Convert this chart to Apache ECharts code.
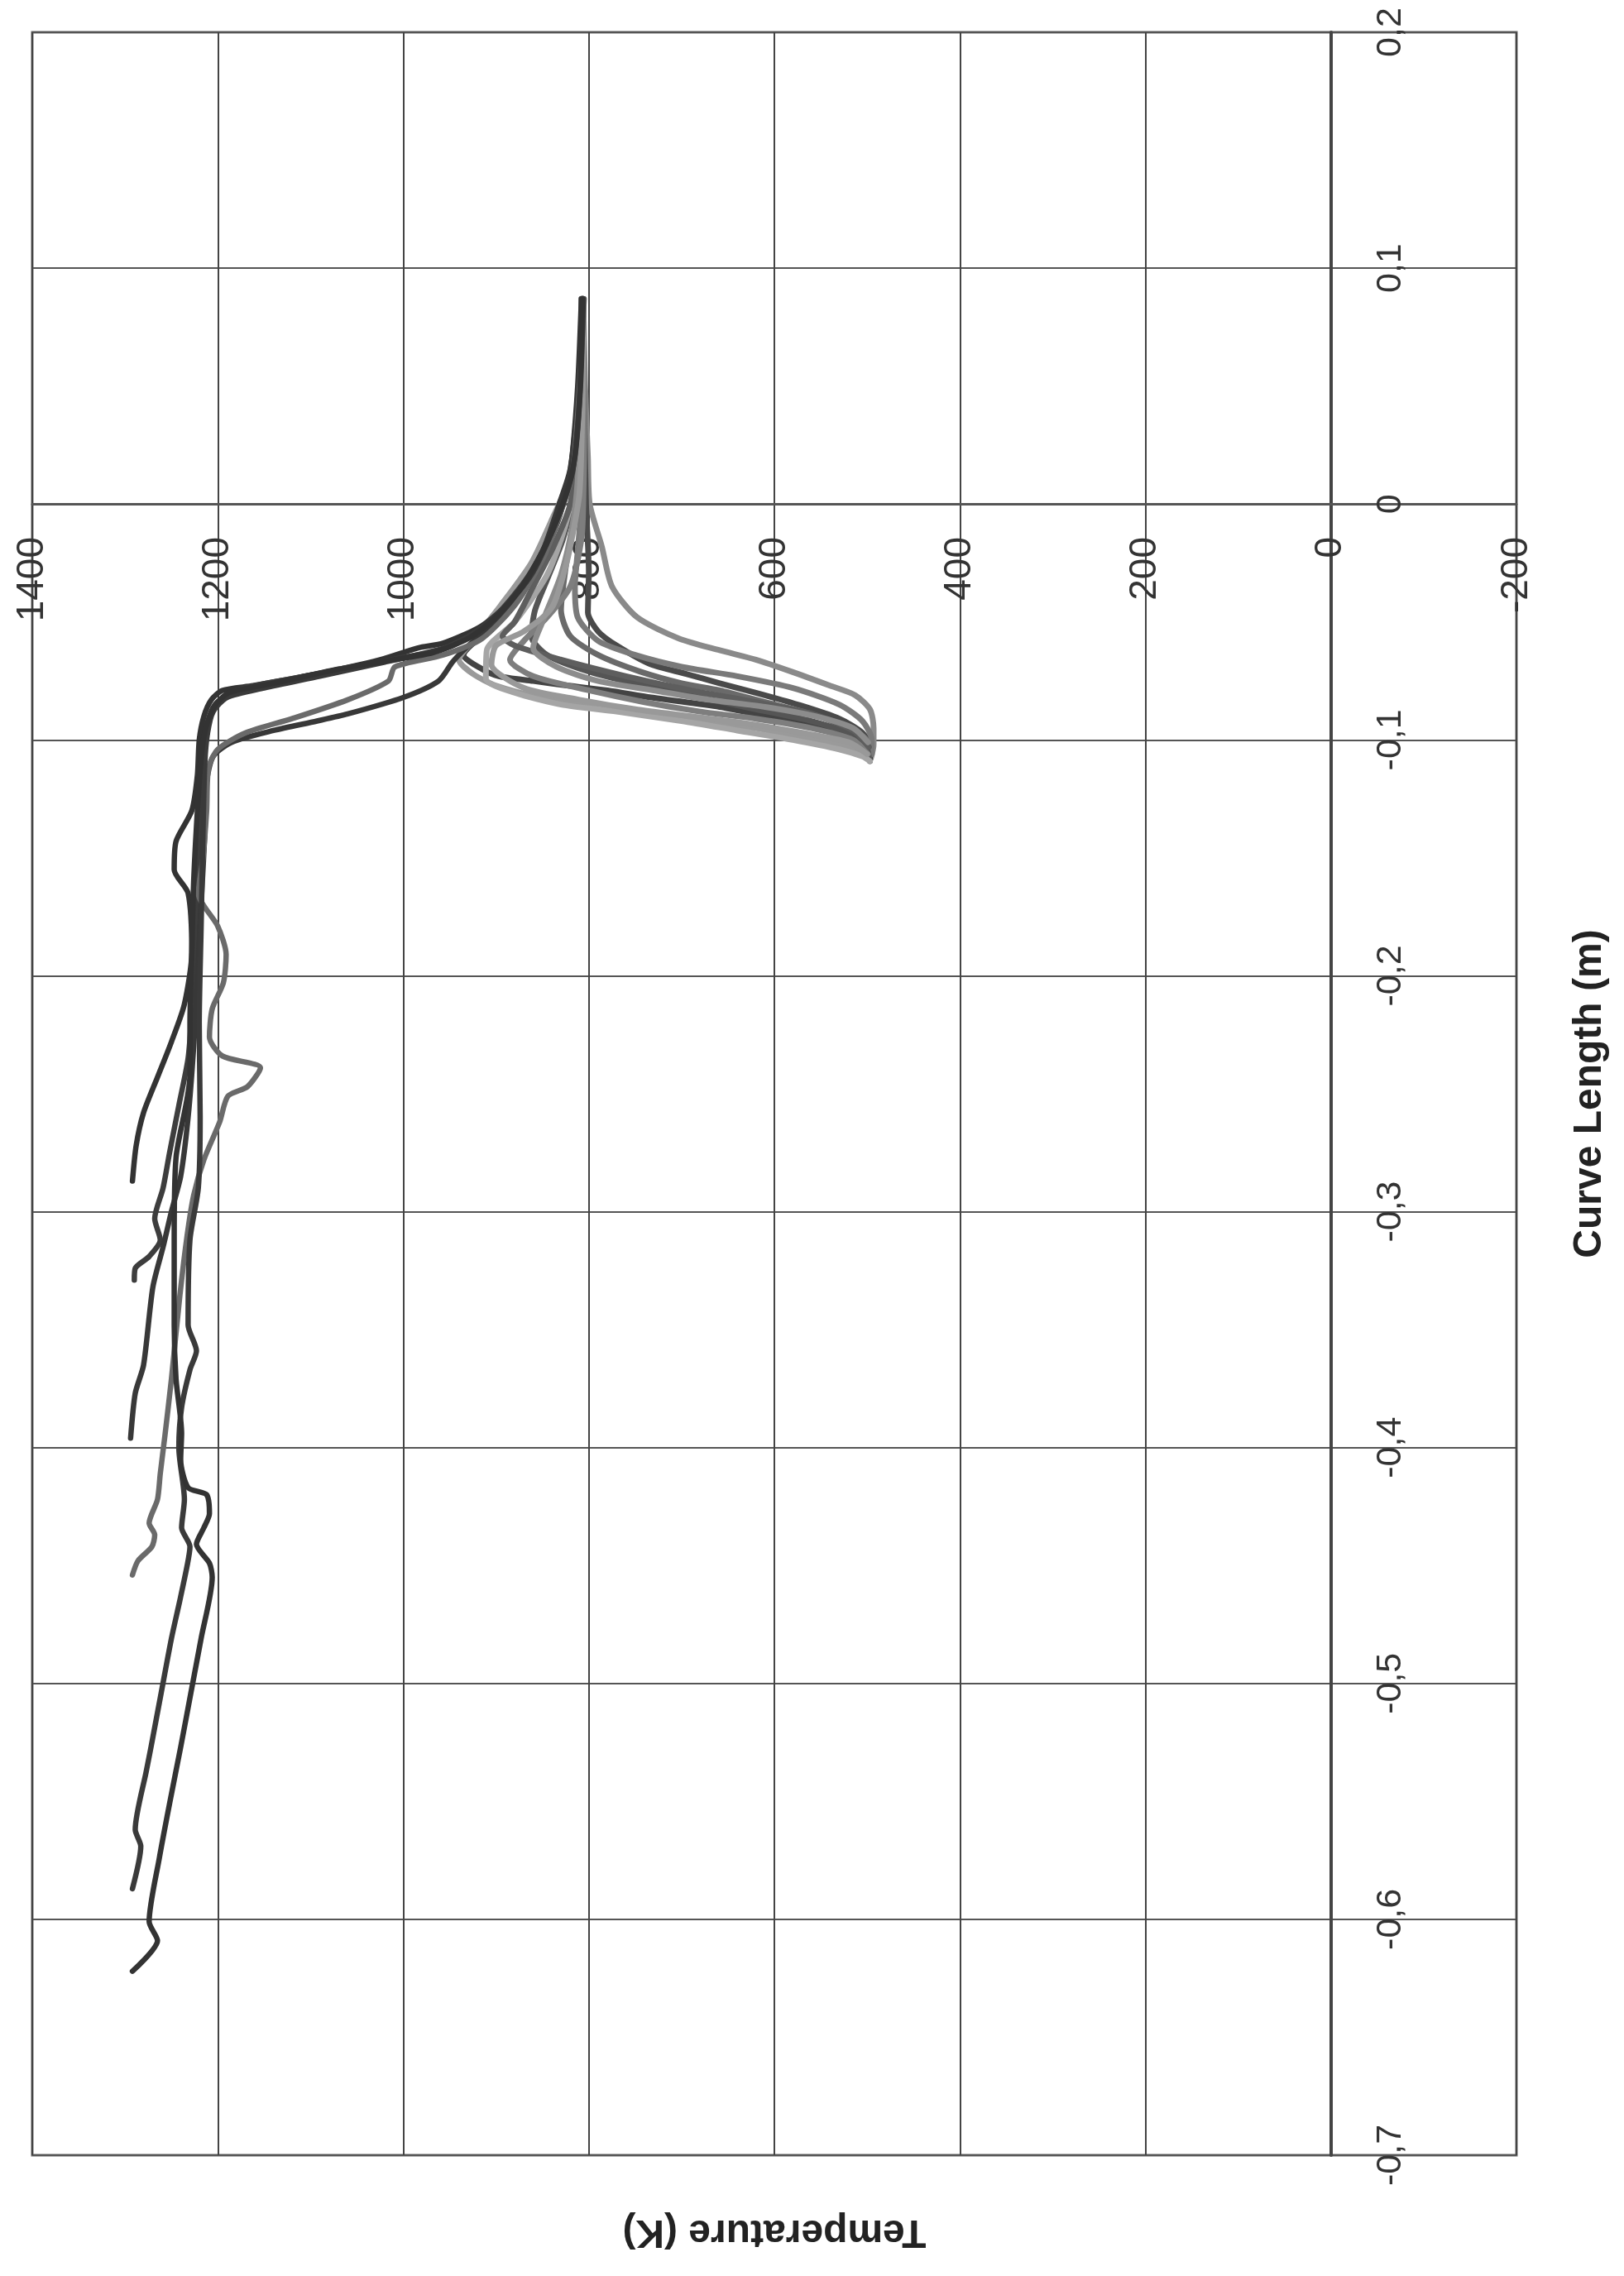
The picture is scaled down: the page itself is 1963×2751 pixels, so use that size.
<!DOCTYPE html>
<html>
<head>
<meta charset="utf-8">
<script src="https://cdn.jsdelivr.net/npm/echarts@6/dist/echarts.min.js"></script>
<style>
html,body{margin:0;padding:0;background:#fff;}
#chart{width:1963px;height:2751px;}
</style>
</head>
<body>
<div id="chart"></div>
<script>
// Axis ticks
var tempTicks = [-200, 0, 200, 400, 600, 800, 1000, 1200, 1400];
var lengthTicks = [-0.7, -0.6, -0.5, -0.4, -0.3, -0.2, -0.1, 0, 0.1, 0.2];

// Each series: [Temperature (K), Curve Length (m)]
// Hot branches (dark lines running to the far negative curve length)
var hot1 = [[808,0.087],[812,0.05],[818,0.02],[822,0.009],[834,-0.008],[855,-0.026],[889,-0.043],[917,-0.052],[957,-0.059],[984,-0.061],[1025,-0.066],[1093,-0.072],[1162,-0.077],[1195,-0.079],[1207,-0.083],[1215,-0.09],[1220,-0.1],[1222,-0.115],[1228,-0.13],[1245,-0.143],[1247,-0.155],[1232,-0.165],[1228,-0.19],[1236,-0.212],[1250,-0.228],[1265,-0.243],[1280,-0.258],[1288,-0.272],[1292,-0.287]];
var hot2 = [[806,0.087],[810,0.05],[816,0.02],[826,0.003],[842,-0.014],[866,-0.031],[897,-0.046],[925,-0.055],[962,-0.062],[1000,-0.065],[1050,-0.069],[1120,-0.074],[1180,-0.079],[1203,-0.085],[1212,-0.094],[1216,-0.105],[1218,-0.13],[1222,-0.16],[1225,-0.19],[1228,-0.215],[1232,-0.235],[1242,-0.255],[1252,-0.275],[1259,-0.29],[1268,-0.303],[1262,-0.312],[1274,-0.319],[1289,-0.324],[1290,-0.329]];
var hot3 = [[807,0.087],[811,0.05],[820,0.015],[832,0.0],[850,-0.02],[880,-0.04],[910,-0.053],[935,-0.062],[947,-0.067],[962,-0.075],[1000,-0.082],[1060,-0.089],[1093,-0.092],[1140,-0.096],[1185,-0.101],[1205,-0.107],[1212,-0.118],[1214,-0.14],[1218,-0.17],[1222,-0.2],[1226,-0.23],[1232,-0.26],[1240,-0.285],[1250,-0.3],[1259,-0.315],[1270,-0.332],[1280,-0.365],[1289,-0.377],[1294,-0.396]];
var hot4 = [[805,0.087],[810,0.05],[818,0.012],[830,-0.003],[848,-0.022],[878,-0.042],[915,-0.057],[957,-0.064],[1009,-0.069],[1016,-0.075],[1060,-0.083],[1120,-0.091],[1170,-0.097],[1200,-0.104],[1210,-0.112],[1212,-0.13],[1216,-0.15],[1221,-0.165],[1200,-0.179],[1191,-0.191],[1194,-0.203],[1206,-0.214],[1209,-0.226],[1195,-0.234],[1154,-0.239],[1168,-0.247],[1189,-0.251],[1198,-0.262],[1215,-0.278],[1226,-0.293],[1233,-0.31],[1241,-0.336],[1250,-0.371],[1257,-0.395],[1262,-0.411],[1265,-0.422],[1274,-0.432],[1268,-0.437],[1271,-0.442],[1286,-0.448],[1292,-0.454]];
var hot5 = [[806,0.087],[809,0.05],[815,0.02],[824,0.005],[840,-0.012],[862,-0.03],[893,-0.045],[922,-0.054],[947,-0.06],[975,-0.063],[1020,-0.067],[1090,-0.073],[1150,-0.078],[1190,-0.082],[1205,-0.088],[1211,-0.097],[1214,-0.11],[1216,-0.14],[1218,-0.18],[1220,-0.22],[1219,-0.26],[1221,-0.29],[1230,-0.312],[1232,-0.348],[1223,-0.359],[1230,-0.367],[1239,-0.383],[1242,-0.4],[1236,-0.422],[1239,-0.434],[1230,-0.442],[1233,-0.45],[1241,-0.465],[1250,-0.481],[1261,-0.504],[1272,-0.527],[1277,-0.537],[1289,-0.562],[1283,-0.569],[1292,-0.587]];
var hot6 = [[807,0.087],[810,0.045],[817,0.015],[828,0.0],[846,-0.017],[872,-0.035],[903,-0.049],[930,-0.057],[968,-0.063],[1010,-0.066],[1070,-0.07],[1140,-0.076],[1188,-0.08],[1204,-0.086],[1213,-0.095],[1218,-0.108],[1222,-0.13],[1226,-0.16],[1228,-0.19],[1230,-0.22],[1230,-0.242],[1245,-0.277],[1247,-0.312],[1247,-0.348],[1245,-0.371],[1239,-0.394],[1240,-0.405],[1232,-0.417],[1212,-0.42],[1209,-0.428],[1215,-0.434],[1223,-0.441],[1209,-0.449],[1206,-0.455],[1218,-0.481],[1229,-0.504],[1240,-0.527],[1252,-0.551],[1263,-0.574],[1274,-0.601],[1265,-0.609],[1292,-0.622]];

// Cold branches (spike down into the cold tip near -0.1 m)
var cold1 = [[806,0.087],[804,0.05],[801,0.02],[799,0.0],[786,-0.018],[775,-0.035],[748,-0.048],[703,-0.057],[659,-0.062],[620,-0.066],[582,-0.071],[540,-0.077],[513,-0.081],[497,-0.087],[493,-0.095],[493,-0.102],[496,-0.108]];
var cold2 = [[807,0.087],[805,0.04],[803,0.0],[800,-0.029],[801,-0.046],[790,-0.054],[770,-0.06],[733,-0.068],[695,-0.072],[659,-0.076],[620,-0.08],[575,-0.085],[530,-0.091],[505,-0.097],[497,-0.103],[497,-0.108]];
var cold3 = [[808,0.087],[807,0.04],[809,0.015],[813,0.0],[820,-0.015],[826,-0.03],[830,-0.045],[820,-0.056],[790,-0.064],[745,-0.071],[700,-0.076],[659,-0.079],[610,-0.084],[560,-0.089],[520,-0.095],[500,-0.1],[496,-0.106]];
var cold4 = [[807,0.087],[811,0.045],[818,0.015],[830,-0.002],[848,-0.02],[878,-0.04],[910,-0.054],[935,-0.064],[915,-0.07],[897,-0.073],[860,-0.075],[822,-0.077],[780,-0.079],[733,-0.082],[659,-0.086],[620,-0.089],[582,-0.092],[540,-0.096],[510,-0.1],[498,-0.105],[497,-0.109]];
var cold5 = [[807,0.087],[812,0.04],[822,0.01],[838,-0.005],[862,-0.025],[895,-0.043],[925,-0.058],[940,-0.066],[925,-0.072],[900,-0.077],[852,-0.082],[793,-0.086],[733,-0.089],[659,-0.093],[620,-0.095],[582,-0.098],[540,-0.101],[510,-0.104],[498,-0.108]];
var cold6 = [[806,0.087],[806,0.03],[808,0.0],[812,-0.02],[815,-0.035],[812,-0.048],[790,-0.058],[750,-0.064],[700,-0.069],[640,-0.073],[580,-0.078],[530,-0.085],[505,-0.092],[495,-0.1],[495,-0.106]];
var cold7 = [[807,0.087],[809,0.03],[816,0.005],[828,-0.015],[845,-0.032],[858,-0.045],[862,-0.056],[845,-0.064],[800,-0.071],[740,-0.077],[680,-0.082],[620,-0.087],[560,-0.092],[515,-0.098],[500,-0.104],[498,-0.108]];
var cold8 = [[806,0.087],[805,0.03],[806,0.0],[808,-0.015],[820,-0.035],[845,-0.048],[870,-0.058],[885,-0.066],[860,-0.073],[800,-0.079],[740,-0.084],[680,-0.088],[620,-0.091],[560,-0.095],[515,-0.1],[499,-0.106]];
var cold9 = [[808,0.087],[810,0.04],[815,0.01],[826,-0.01],[845,-0.03],[880,-0.05],[910,-0.062],[911,-0.074],[880,-0.08],[830,-0.085],[770,-0.088],[700,-0.092],[640,-0.096],[580,-0.1],[530,-0.104],[505,-0.107],[497,-0.109]];
var cold10 = [[807,0.087],[810,0.03],[820,0.0],[838,-0.018],[860,-0.035],[880,-0.05],[893,-0.056],[880,-0.06],[830,-0.066],[760,-0.073],[690,-0.079],[620,-0.084],[560,-0.089],[515,-0.096],[498,-0.103]];
var cold11 = [[808,0.087],[809,0.04],[812,0.01],[818,-0.01],[830,-0.03],[850,-0.05],[860,-0.061],[835,-0.069],[790,-0.075],[730,-0.079],[670,-0.083],[610,-0.086],[555,-0.09],[515,-0.095],[499,-0.101]];
var cold12 = [[806,0.087],[807,0.04],[810,0.005],[817,-0.012],[826,-0.028],[840,-0.044],[870,-0.054],[900,-0.06],[905,-0.068],[870,-0.078],[810,-0.083],[750,-0.087],[690,-0.09],[630,-0.093],[570,-0.097],[520,-0.101],[500,-0.106]];

var coldSeries = [cold1, cold2, cold3, cold4, cold5, cold6, cold7, cold8, cold9, cold10, cold11, cold12];
var coldColors = ['#8a8a8a','#4a4a4a','#6a6a6a','#444444','#9a9a9a','#7a7a7a','#555555','#7e7e7e','#a5a5a5','#5e5e5e','#8c8c8c','#999999'];
var hotSeries = [hot1, hot2, hot3, hot4, hot5, hot6];
var hotColors = ['#333333','#3d3d3d','#383838','#6a6a6a','#3a3a3a','#333333'];

var FONT = '"Liberation Sans", Arial, sans-serif';

function fmtLen(v) {
  if (Math.abs(v) < 1e-9) return '0';
  return v.toFixed(1).replace('.', ',');
}
function fmtTemp(v) { return String(Math.round(v)); }

var series = [];
coldSeries.forEach(function (d, i) {
  series.push({
    type: 'line', data: d, showSymbol: false, smooth: 0.25, silent: true,
    lineStyle: { color: coldColors[i], width: 7, cap: 'round', join: 'round' }
  });
});
hotSeries.forEach(function (d, i) {
  series.push({
    type: 'line', data: d, showSymbol: false, smooth: 0.25, silent: true,
    lineStyle: { color: hotColors[i], width: 6.5, cap: 'round', join: 'round' }
  });
});

var chart = echarts.init(document.getElementById('chart'), null, { renderer: 'canvas' });
chart.setOption({
  animation: false,
  backgroundColor: '#ffffff',
  grid: { left: 39, right: 130, top: 39, bottom: 146, show: true, borderColor: '#6a6a6a', borderWidth: 3 },
  xAxis: {
    type: 'value', min: tempTicks[0], max: tempTicks[tempTicks.length - 1], interval: 200,
    inverse: true, position: 'bottom', offset: -1996,
    axisLine: { onZero: false, lineStyle: { color: '#555', width: 3 } },
    axisTick: { show: false },
    axisLabel: { rotate: 90, margin: 40, fontSize: 46, color: '#333', fontFamily: FONT, formatter: fmtTemp, showMinLabel: true, showMaxLabel: true },
    splitLine: { show: true, lineStyle: { color: '#444', width: 2 } }
  },
  yAxis: {
    type: 'value', min: lengthTicks[0], max: lengthTicks[lengthTicks.length - 1], interval: 0.1,
    position: 'right', offset: -224,
    axisLine: { onZero: false, lineStyle: { color: '#444', width: 4 } },
    axisTick: { show: false },
    axisLabel: { rotate: 90, margin: 51, fontSize: 43, color: '#333', fontFamily: FONT, formatter: fmtLen, showMinLabel: true, showMaxLabel: true },
    splitLine: { show: true, lineStyle: { color: '#555', width: 2 } }
  },
  graphic: [
    { type: 'text', x: 936, y: 2697, rotation: Math.PI,
      style: { text: 'Temperature (K)', font: 'bold 48px ' + FONT, fill: '#222', align: 'center', verticalAlign: 'middle' } },
    { type: 'text', x: 1922, y: 1322, rotation: Math.PI / 2,
      style: { text: 'Curve Length (m)', font: 'bold 48px ' + FONT, fill: '#222', align: 'center', verticalAlign: 'middle' } }
  ],
  series: series
});
</script>
</body>
</html>
